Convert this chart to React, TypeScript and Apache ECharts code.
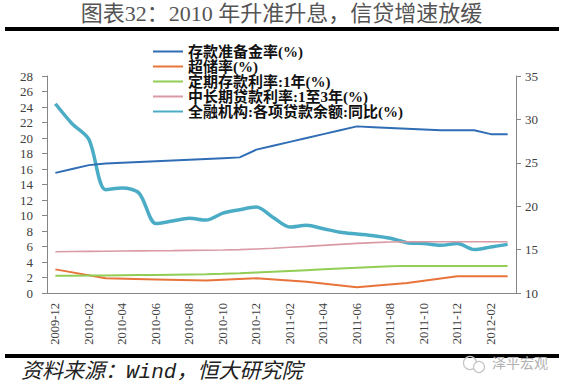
import React, { useEffect, useRef } from "react";
import * as echarts from "echarts";

const months = [
  "2009-12", "2010-01", "2010-02", "2010-03", "2010-04", "2010-05", "2010-06",
  "2010-07", "2010-08", "2010-09", "2010-10", "2010-11", "2010-12", "2011-01",
  "2011-02", "2011-03", "2011-04", "2011-05", "2011-06", "2011-07", "2011-08",
  "2011-09", "2011-10", "2011-11", "2011-12", "2012-01", "2012-02", "2012-03",
];

const seriesNames = [
  "存款准备金率(%)",
  "超储率(%)",
  "定期存款利率:1年(%)",
  "中长期贷款利率:1至3年(%)",
  "全融机构:各项贷款余额:同比(%)",
];

const reserveRatio = [
  15.5, 16.0, 16.5, 16.7, 16.8, 16.9, 17.0, 17.1, 17.2, 17.3, 17.4, 17.5, 18.5, 19.0,
  19.5, 20.0, 20.5, 21.0, 21.5, 21.4, 21.3, 21.2, 21.1, 21.0, 21.0, 21.0, 20.5, 20.5,
];

const excessReserve = [
  3.05, null, null, 1.9, null, null, 1.75, null, null, 1.6, null, null, 1.9, null,
  null, 1.45, null, null, 0.75, null, null, 1.3, null, null, 2.15, null, null, 2.15,
];

const deposit1y = [
  2.22, 2.23, 2.25, 2.27, 2.29, 2.31, 2.33, 2.36, 2.39, 2.42, 2.47, 2.55, 2.65, 2.75,
  2.85, 2.95, 3.05, 3.15, 3.25, 3.35, 3.45, 3.5, 3.5, 3.5, 3.5, 3.5, 3.5, 3.5,
];

const loan1to3y = [
  5.33, 5.35, 5.37, 5.39, 5.41, 5.43, 5.45, 5.47, 5.5, 5.52, 5.55, 5.6, 5.68, 5.78,
  5.9, 6.02, 6.15, 6.28, 6.4, 6.5, 6.58, 6.62, 6.62, 6.62, 6.62, 6.62, 6.62, 6.62,
];

const loanGrowth = [
  31.8, 29.5, 27.7, 21.9, 22.1, 21.5, 18.0, 18.3, 18.6, 18.4, 19.2, 19.6, 19.9, 18.7,
  17.6, 17.8, 17.4, 17.0, 16.8, 16.6, 16.3, 15.8, 15.7, 15.5, 15.7, 15.0, 15.3, 15.6,
];

const titleText = "图表32：2010 年升准升息，信贷增速放缓";
const sourceText = "资料来源：Wind，恒大研究院";
const watermarkText = "泽平宏观";

const SERIF = '"Liberation Serif", "Noto Sans CJK SC", serif';

export default function App() {
  const ref = useRef<HTMLDivElement>(null);

  useEffect(() => {
    if (!ref.current) return;
    const chart = echarts.init(ref.current, undefined, { renderer: "svg" });
    const axisColor = "#868686";
    const labelColor = "#404040";
    const colors = ["#2F6DB5", "#E8743B", "#92CD55", "#D99AA4", "#4BACC6"];
    const widths = [2, 2, 2, 1.6, 3.5];
    const datasets = [reserveRatio, excessReserve, deposit1y, loan1to3y, loanGrowth];

    chart.setOption({
      animation: false,
      backgroundColor: "#ffffff",
      grid: { left: 47, right: 47, top: 76, bottom: 94 },
      legend: {
        orient: "vertical",
        left: 152,
        top: 44,
        padding: 0,
        itemWidth: 30,
        itemHeight: 14,
        itemGap: 0,
        data: seriesNames,
        itemStyle: { opacity: 0 },
        textStyle: {
          fontFamily: SERIF,
          fontWeight: "bold",
          fontSize: 15,
          lineHeight: 14.6,
          color: "#111",
        },
      },
      xAxis: {
        type: "category",
        data: months,
        boundaryGap: true,
        axisLine: { lineStyle: { color: axisColor } },
        axisTick: { interval: 1, length: 5, lineStyle: { color: axisColor } },
        axisLabel: {
          interval: 1,
          rotate: 90,
          margin: 10,
          fontFamily: SERIF,
          fontSize: 12.5,
          color: labelColor,
        },
      },
      yAxis: [
        {
          type: "value",
          min: 0,
          max: 28,
          interval: 2,
          axisLine: { show: true, lineStyle: { color: axisColor } },
          axisTick: { show: true, length: 5, lineStyle: { color: axisColor } },
          splitLine: { show: false },
          axisLabel: { margin: 14, fontFamily: SERIF, fontSize: 13, color: labelColor },
        },
        {
          type: "value",
          min: 10,
          max: 35,
          interval: 5,
          position: "right",
          axisLine: { show: true, lineStyle: { color: axisColor } },
          axisTick: { show: true, length: 5, lineStyle: { color: axisColor } },
          splitLine: { show: false },
          axisLabel: { margin: 9, fontFamily: SERIF, fontSize: 13, color: labelColor },
        },
      ],
      series: seriesNames.map((name, i) => ({
        name,
        type: "line",
        yAxisIndex: i === 4 ? 1 : 0,
        data: datasets[i],
        connectNulls: true,
        smooth: i === 4 ? 0.3 : false,
        symbol: "none",
        color: colors[i],
        lineStyle: { color: colors[i], width: widths[i] },
        z: i === 4 ? 1 : 2 + i,
      })),
      graphic: [
        {
          type: "text",
          left: "center",
          top: 2,
          style: {
            text: titleText,
            fontFamily: SERIF,
            fontSize: 22,
            fill: "#555555",
          },
        },
        { type: "rect", shape: { x: 5, y: 27, width: 554, height: 4 }, style: { fill: "#000" } },
        { type: "rect", shape: { x: 5, y: 354, width: 554, height: 4 }, style: { fill: "#000" } },
        {
          type: "text",
          x: 21,
          y: 362,
          style: {
            text: sourceText,
            fontFamily: '"Liberation Mono", "Noto Sans CJK SC", monospace',
            fontStyle: "italic",
            fontSize: 21,
            fill: "#222",
          },
        },
        {
          type: "circle",
          shape: { cx: 470, cy: 363, r: 6.5 },
          style: { fill: "none", stroke: "#c4c4c4", lineWidth: 1.2 },
        },
        {
          type: "circle",
          shape: { cx: 479, cy: 367, r: 5.5 },
          style: { fill: "#fff", stroke: "#c4c4c4", lineWidth: 1.2 },
        },
        {
          type: "text",
          x: 492,
          y: 355,
          style: {
            text: watermarkText,
            fontFamily: '"Noto Sans CJK SC", sans-serif',
            fontSize: 14,
            fill: "#b0b0b0",
          },
        },
      ],
    });

    return () => chart.dispose();
  }, []);

  return (
    <div
      ref={ref}
      style={{ position: "fixed", left: 0, top: 0, width: 563, height: 387, background: "#fff" }}
    />
  );
}
